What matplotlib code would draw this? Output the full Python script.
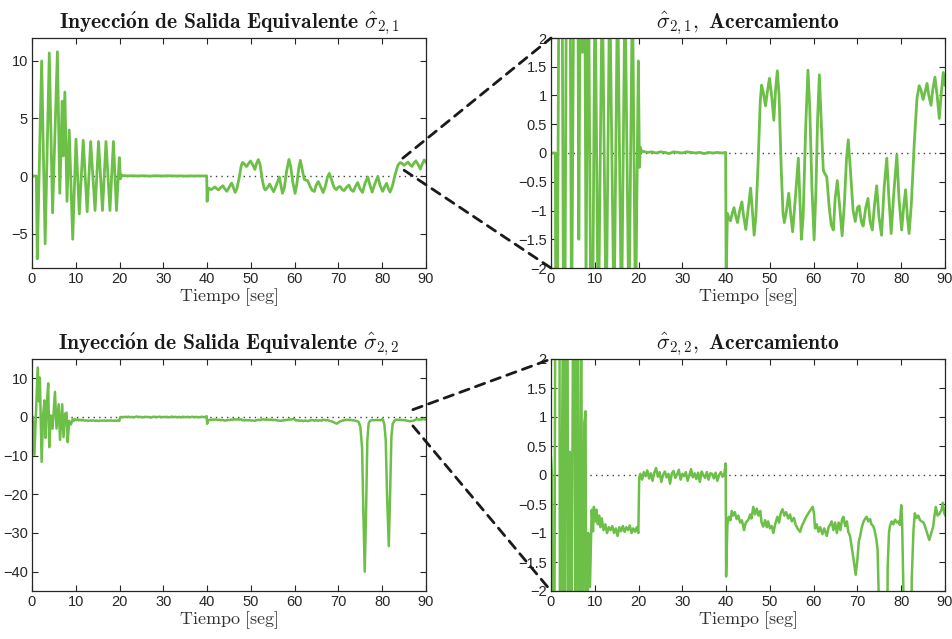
import matplotlib
matplotlib.use('Agg')
import matplotlib.pyplot as plt
from matplotlib.patches import ConnectionPatch

plt.rcParams['mathtext.fontset'] = 'cm'
plt.rcParams['font.family'] = ['Liberation Sans', 'DejaVu Sans']

verde = '#6cbf47'

# sigma_2,1
t21 = [0, 1.0, 1.2, 2.2, 3.0, 3.95, 4.7, 5.8, 6.35, 6.9, 7.15, 7.5, 8.0, 8.5, 9.3,
       10.05, 10.8, 11.7, 12.6, 13.4, 14.4, 15.2, 16.1, 16.9, 17.8, 18.6, 19.3, 19.95,
       20.2, 20.4, 20.7, 21, 22, 23, 24, 25, 26, 27, 28, 29, 30, 31, 32, 33, 34, 35,
       36, 37, 38, 39, 39.9,
       40.0, 40.3, 40.6, 41.0, 41.4, 41.8, 42.2, 42.6, 43.1, 43.6, 44.0, 44.5, 45.0,
       45.6, 46.0, 46.4, 46.8, 47.3, 47.8, 48.1, 48.5, 49.0, 49.4, 49.9, 50.4, 50.9,
       51.3, 51.7, 52.1, 52.6, 53.0, 53.3, 53.8, 54.3, 54.8, 55.2, 55.8, 56.5, 56.9,
       57.2, 57.6, 58.2, 58.7, 59.1, 59.6, 60.1, 60.5, 60.9, 61.3, 61.7, 62.2, 62.5,
       63.0, 63.5, 64.0, 64.5, 64.9, 65.4, 65.9, 66.5, 67.0, 67.5, 67.9, 68.4, 69.0,
       69.5, 70.0, 70.4, 70.9, 71.3, 71.9, 72.4, 72.9, 73.4, 73.9, 74.4, 74.9, 75.5,
       76.1, 76.7, 77.2, 77.7, 78.3, 79.0, 79.5, 80.1, 80.6, 81.0, 81.4, 81.8, 82.3,
       83.0, 83.6, 84.1, 84.5, 85.0, 85.4, 85.9, 86.3, 86.8, 87.2, 87.7, 88.2, 88.7,
       89.1, 89.6, 90.0]
s21 = [0, 0, -7.2, 10.0, -5.9, 10.7, -3.2, 10.8, -1.5, 6.5, 1.75, 7.3, -2.2, 4.0, -5.5,
       3.2, -3.3, 3.1, -3.1, 3.0, -3.0, 3.0, -3.0, 3.0, -3.0, 3.0, -3.0, 1.6,
       -0.25, 0.1, 0.02, 0.03, 0.01, 0.02, 0.0, 0.02, 0.01, -0.01, 0.02, 0.01, 0.0,
       0.02, 0.01, 0.0, 0.01, -0.01, 0.01, 0.0, 0.01, 0.0, 0.01,
       -2.2, -1.05, -1.12, -1.18, -1.05, -0.95, -1.1, -1.21, -1.0, -0.85, -1.1, -1.33, -1.0,
       -0.61, -1.0, -1.43, -1.1, -0.2, 0.9, 1.18, 1.05, 0.82, 1.05, 1.3, 1.0, 0.57,
       1.1, 1.43, 1.0, -0.3, -1.05, -1.21, -1.0, -0.7, -1.1, -1.37, -0.8, -0.09, -0.9,
       -1.5, -1.1, 0.5, 1.44, 0.8, -0.6, -1.51, -0.7, 0.6, 1.36, 0.6, -0.3, -0.35,
       -0.42, -0.9, -1.25, -1.34, -0.8, -0.48, -0.9, -1.44, -0.9, -0.1, 0.23, -0.3, -1.0,
       -1.19, -0.95, -0.92, -1.2, -1.27, -0.95, -0.79, -1.2, -1.34, -0.9, -0.57, -1.1, -1.43,
       -0.6, -0.09, -0.8, -1.4, -0.7, -0.03, -0.8, -1.34, -0.9, -0.64, -1.1, -1.4, -0.9,
       0.2, 0.95, 1.17, 1.1, 0.93, 1.05, 1.21, 1.0, 0.83, 1.1, 1.32, 1.0, 0.6,
       1.0, 1.4, 1.18]

# sigma_2,2
t22 = [0, 0.2, 0.55, 0.9, 1.3, 1.6, 1.8, 2.2, 2.55, 2.85, 3.1, 3.4, 3.7, 3.95, 4.3,
       4.7, 5.25, 5.6, 6.1, 6.4, 6.9, 7.2, 7.6, 7.9, 8.15, 8.5, 8.9, 9.3, 9.6,
       9.8, 10.1, 10.4, 10.7, 11.0, 11.3, 11.6, 12.0, 12.4, 12.8, 13.2, 13.6, 14.0,
       14.4, 14.8, 15.2, 15.6, 16.0, 16.4, 16.8, 17.2, 17.6, 18.0, 18.4, 18.8, 19.2,
       19.6, 19.95,
       20.15, 20.4, 20.8, 21.2, 21.6, 22.0, 22.4, 22.8, 23.2, 23.6, 24.0, 24.4, 24.8,
       25.2, 25.6, 26.0, 26.4, 26.8, 27.2, 27.6, 28.0, 28.4, 28.8, 29.2, 29.6, 30.0,
       30.4, 30.8, 31.2, 31.6, 32.0, 32.4, 32.8, 33.2, 33.6, 34.0, 34.4, 34.8, 35.2,
       35.6, 36.0, 36.4, 36.8, 37.2, 37.6, 38.0, 38.4, 38.8, 39.2, 39.6, 39.9,
       40.0, 40.3, 40.6, 41.0, 41.3, 41.6, 42.0, 42.4, 42.8, 43.2, 43.6, 44.1, 44.5,
       45.1, 45.5, 45.8, 46.2, 46.6, 47.0, 47.4, 47.8, 48.1, 48.5, 48.9, 49.3, 49.6,
       50.0, 50.4, 50.8, 51.2, 51.7, 52.1, 52.5, 52.9, 53.3, 53.7, 54.2, 54.6, 55.0,
       55.5, 55.9, 56.3, 56.9, 57.3, 57.8, 58.3, 58.8, 59.3, 59.8, 60.1, 60.3, 60.7,
       61.1, 61.5, 62.0, 62.4, 63.0, 63.4, 63.8, 64.1, 64.5, 64.9, 65.3, 65.7, 66.1,
       66.5, 66.8, 67.2, 67.6, 67.9, 68.3, 68.7, 69.2, 69.6, 70.0, 70.3, 70.6, 71.0,
       71.4, 71.8, 72.1, 72.5, 72.9, 73.2, 73.6, 73.9, 74.3, 74.6, 75.0, 75.4, 75.7,
       76.0, 76.3, 76.6, 76.9, 77.2, 77.4, 77.8, 78.2, 78.6, 79.0, 79.4, 79.7, 80.0,
       80.2, 80.5, 80.8, 81.1, 81.5, 81.8, 82.1, 82.4, 82.8, 83.1, 83.5, 83.9, 84.3,
       84.7, 85.1, 85.5, 85.9, 86.4, 86.8, 87.3, 87.6, 87.9, 88.3, 88.8, 89.2, 89.5,
       89.8, 90.0]
s22 = [0.3, 0.0, -9.8, 1.0, 12.8, 4.0, 10.2, -11.6, 0.7, 4.3, -5.4, 3.5, 8.7, -7.8, 0.4,
       -3.0, 6.5, -3.0, 3.3, -5.9, 3.3, -5.2, 0.9, 1.1, -6.5, -1.0, -1.93, -0.6, -0.97,
       -0.55, -0.8, -0.6, -0.85, -0.7, -0.9, -0.75, -0.95, -0.85, -1.0, -0.9, -0.95, -0.88,
       -1.0, -0.92, -1.05, -0.9, -0.97, -0.88, -0.98, -0.9, -0.95, -0.87, -1.0, -0.92, -0.98,
       -0.9, -1.0,
       -0.05, 0.02, -0.08, 0.05, -0.02, 0.08, -0.06, 0.03, -0.1, 0.04, 0.12, -0.03, 0.05,
       -0.12, 0.0, 0.06, -0.04, 0.02, -0.15, 0.03, 0.07, -0.05, 0.01, 0.09, -0.08, 0.02,
       -0.02, 0.05, -0.1, 0.0, 0.1, -0.04, 0.03, -0.07, 0.04, -0.12, 0.06, 0.0, -0.05,
       0.05, -0.08, 0.03, 0.02, -0.06, 0.04, -0.1, 0.0, 0.05, -0.03, 0.02, 0.2,
       -1.75, -0.85, -0.72, -0.78, -0.62, -0.7, -0.64, -0.76, -0.7, -0.82, -0.78, -0.95, -0.82,
       -0.77, -0.68, -0.75, -0.55, -0.68, -0.58, -0.7, -0.62, -0.82, -0.89, -0.78, -0.9, -0.8,
       -0.92, -0.88, -1.0, -0.85, -0.72, -0.82, -0.65, -0.59, -0.7, -0.64, -0.75, -0.68, -0.8,
       -0.74, -0.86, -0.92, -0.98, -0.88, -0.8, -0.72, -0.66, -0.6, -0.55, -0.68, -0.92, -0.85,
       -0.98, -0.9, -1.02, -0.92, -1.05, -0.9, -0.85, -0.8, -0.95, -0.82, -1.0, -0.82, -0.95,
       -0.76, -0.72, -0.88, -0.8, -0.98, -1.05, -1.25, -1.5, -1.72, -1.45, -1.15, -1.06, -0.9,
       -0.8, -0.75, -0.72, -0.8, -0.76, -0.85, -0.88, -0.95, -1.1, -1.29, -2.5, -8.0, -25.0,
       -40.0, -25.0, -6.0, -1.6, -1.0, -0.89, -0.8, -0.85, -0.77, -0.82, -0.8, -0.86, -0.52,
       -0.8, -2.0, -6.0, -20.0, -33.4, -20.0, -5.0, -1.8, -0.95, -0.66, -0.74, -0.7, -0.78,
       -0.8, -0.82, -0.9, -1.0, -1.12, -1.02, -0.89, -0.7, -0.55, -0.7, -0.66, -0.6, -0.48,
       -0.65, -0.69]

xticks = [0, 10, 20, 30, 40, 50, 60, 70, 80, 90]
zoom_ticks = [-2, -1.5, -1, -0.5, 0, 0.5, 1, 1.5, 2]
zoom_labels = ['\u22122', '\u22121.5', '\u22121', '\u22120.5', '0', '0.5', '1', '1.5', '2']

W, H = 953, 639
fig = plt.figure(figsize=(W / 100, H / 100), dpi=100)


def caja(l, r, t, b):
    return fig.add_axes([l / W, 1 - b / H, (r - l) / W, (b - t) / H])


def estilo(ax, titulo):
    ax.axhline(0, color='0.25', lw=1.0, ls=(0, (1, 3)), zorder=1)
    ax.set_xlim(0, 90)
    ax.set_xticks(xticks)
    ax.tick_params(direction='in', top=True, right=True, length=4, width=0.8,
                   labelsize=10.5, pad=3, colors='0.15')
    for s in ax.spines.values():
        s.set_linewidth(0.9)
        s.set_color('0.15')
    ax.set_title(titulo, fontsize=15.5, pad=7, color='0.1')
    ax.set_xlabel(r'$\mathrm{Tiempo\ [seg]}$', fontsize=13, labelpad=0, color='0.2')


ax1 = caja(32, 426, 38, 268)
ax2 = caja(551, 945, 38, 268)
ax3 = caja(32, 426, 359, 591)
ax4 = caja(551, 945, 359, 591)

ax1.plot(t21, s21, color=verde, lw=2.0, zorder=2)
ax2.plot(t21, s21, color=verde, lw=2.0, zorder=2)
ax3.plot(t22, s22, color=verde, lw=1.8, zorder=2)
ax4.plot(t22, s22, color=verde, lw=1.8, zorder=2)

estilo(ax1, r'$\mathbf{Inyecci\acute{o}n\ de\ Salida\ Equivalente}\ \hat{\sigma}_{2,1}$')
estilo(ax2, r'$\hat{\sigma}_{2,1}\mathbf{,\ Acercamiento}$')
estilo(ax3, r'$\mathbf{Inyecci\acute{o}n\ de\ Salida\ Equivalente}\ \hat{\sigma}_{2,2}$')
estilo(ax4, r'$\hat{\sigma}_{2,2}\mathbf{,\ Acercamiento}$')

ax1.set_ylim(-8, 12)
ax1.set_yticks([-5, 0, 5, 10])
ax3.set_ylim(-45, 15)
ax3.set_yticks([-40, -30, -20, -10, 0, 10])
for ax in (ax2, ax4):
    ax.set_ylim(-2, 2)
    ax.set_yticks(zoom_ticks)
    ax.set_yticklabels(zoom_labels)

# dashed zoom connectors
for a, b, pa, pb in [(ax1, ax2, (84.7, 1.55), (0, 2)), (ax1, ax2, (85.0, 0.5), (0, -2)),
                     (ax3, ax4, (87.0, 1.9), (0, 2)), (ax3, ax4, (87.0, -2.3), (0, -2))]:
    con = ConnectionPatch(xyA=pa, coordsA=a.transData, xyB=pb, coordsB=b.transData,
                          color='#1a1a1a', lw=2.0, ls=(0, (3.5, 2.5)), zorder=5)
    fig.add_artist(con)

fig.savefig('out.png', dpi=100)
